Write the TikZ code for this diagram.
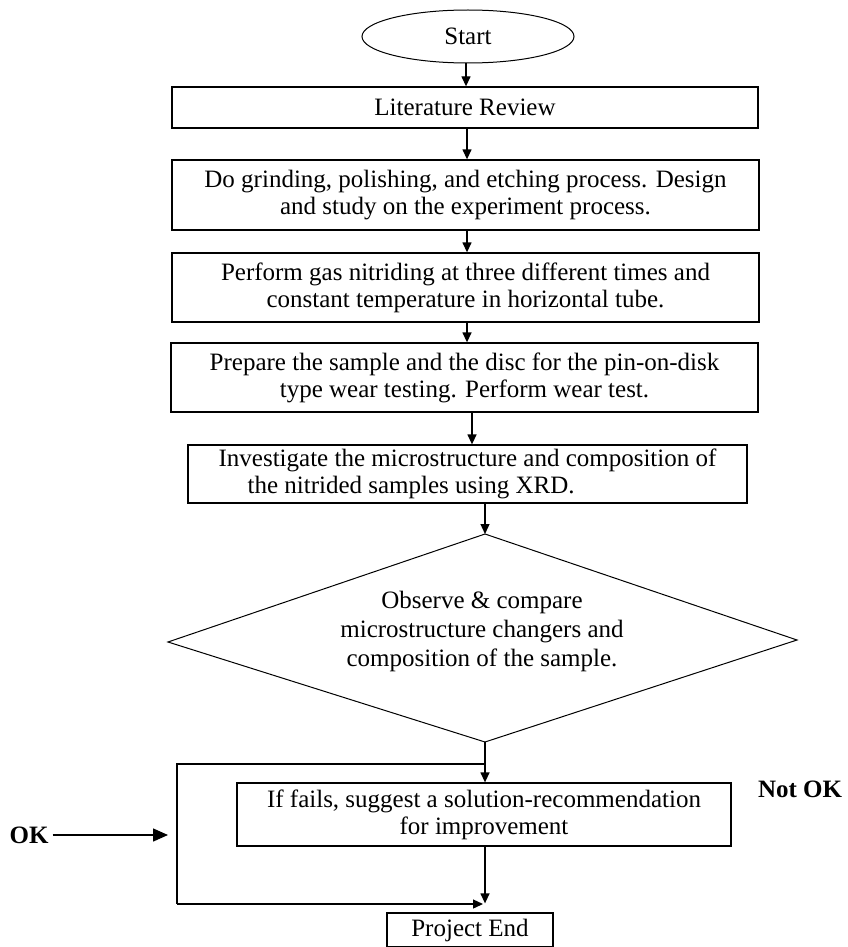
\documentclass[tikz,border=0pt]{standalone}
\usepackage{fontspec}
\setmainfont{Liberation Serif}
\usetikzlibrary{arrows.meta,shapes.geometric}
\begin{document}
\begin{tikzpicture}[x=1pt,y=-1pt,
  every node/.style={font=\fontsize{25}{27}\selectfont},
  proc/.style={draw, line width=1.3pt, rectangle, inner sep=0pt, align=center},
  flow/.style={line width=1.3pt, -{Triangle[length=10pt,width=9pt]}},
  bigflow/.style={line width=1.5pt, -{Triangle[length=15pt,width=13pt]}},
  loopline/.style={line width=1.3pt},
  lbl/.style={font=\fontsize{25}{27}\selectfont\bfseries, inner sep=0pt}
  ]
\useasboundingbox (0,0) rectangle (848,947);
% nodes
\node[draw, ellipse, line width=1pt, minimum width=212pt, minimum height=53pt, inner sep=0pt] (start) at (468,36.5) {Start};
\node[proc, minimum width=586pt, minimum height=41pt] (b1) at (465,107.5) {Literature Review};
\node[proc, minimum width=587pt, minimum height=70pt] (b2) at (465.5,195) {Do grinding, polishing, and etching process. Design\\ and study on the experiment process.};
\node[proc, minimum width=587pt, minimum height=69pt] (b3) at (465.5,287.5) {Perform gas nitriding at three different times and\\ constant temperature in horizontal tube.};
\node[proc, minimum width=587pt, minimum height=69pt] (b4) at (464.5,377.5) {Prepare the sample and the disc for the pin-on-disk\\ type wear testing. Perform wear test.};
\node[proc, minimum width=559pt, minimum height=58pt, align=left] (b5) at (467.5,474) {Investigate the microstructure and composition of\\ \hspace*{29pt}the nitrided samples using XRD.};
% decision diamond
\coordinate (dT) at (485,534);
\coordinate (dR) at (797,640);
\coordinate (dB) at (485,742);
\coordinate (dL) at (168,642);
\draw[line width=1pt] (dT) -- (dR) -- (dB) -- (dL) -- cycle;
\node[align=center, inner sep=0pt, font=\fontsize{25}{29}\selectfont] (dtext) at (482,631) {Observe \& compare\\ microstructure changers and\\ composition of the sample.};
\node[proc, minimum width=494pt, minimum height=63pt] (fix) at (484,814.5) {If fails, suggest a solution-recommendation\\ for improvement};
\node[proc, minimum width=166pt, minimum height=34pt] (pe) at (470,930) {Project End};
\node[lbl] (ok) at (29,835) {OK};
\node[lbl] (notok) at (800,789) {Not OK};
\coordinate (okend) at (168,835);
\coordinate (loopTL) at (177,764);
\coordinate (loopBL) at (177,904);
% connectors
\draw[flow] (start.south -| 466,0) -- (466,0 |- b1.north);
\draw[flow] (467,0 |- b1.south) -- (467,0 |- b2.north);
\draw[flow] (467,0 |- b2.south) -- (467,0 |- b3.north);
\draw[flow] (467,0 |- b3.south) -- (467,0 |- b4.north);
\draw[flow] (472,0 |- b4.south) -- (472,0 |- b5.north);
\draw[flow] (b5.south -| dT) -- (dT);
\draw[flow] (dB) -- (dB |- fix.north);
\draw[loopline] (dB |- loopTL) -- (loopTL) -- (loopBL);
\draw[flow] (loopBL) -- ([xshift=-2pt]dB |- loopBL);
\draw[flow, shorten >=9pt] (fix.south -| dB) -- (dB |- pe.north);
\draw[bigflow] (ok.east) ++(4,0) -- (okend);
\end{tikzpicture}
\end{document}
